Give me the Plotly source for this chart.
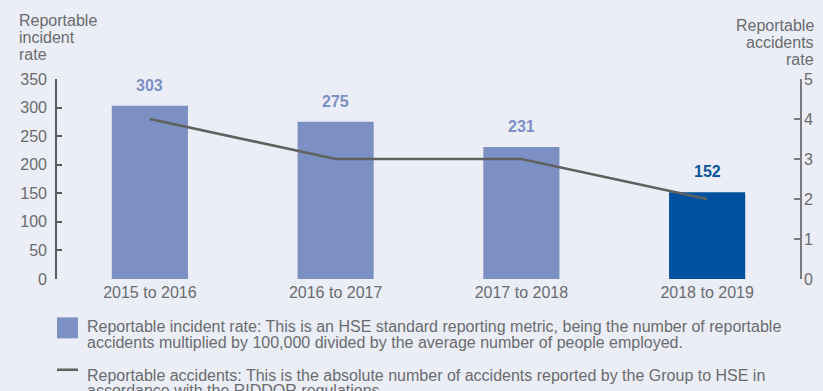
import plotly.graph_objects as go

categories = ["2015 to 2016", "2016 to 2017", "2017 to 2018", "2018 to 2019"]
incident_rate = [303, 275, 231, 152]
accidents = [4, 3, 3, 2]
bar_colors = ["#7d90c4", "#7d90c4", "#7d90c4", "#00529f"]
label_colors = ["#7d90c4", "#7d90c4", "#7d90c4", "#0a55a0"]
y_ticks = [0, 50, 100, 150, 200, 250, 300, 350]
y2_ticks = [0, 1, 2, 3, 4, 5]
left_title = ["Reportable", "incident", "rate"]
right_title = ["Reportable", "accidents", "rate"]
legend_bar = ["Reportable incident rate: This is an HSE standard reporting metric, being the number of reportable",
              "accidents multiplied by 100,000 divided by the average number of people employed."]
legend_line = ["Reportable accidents: This is the absolute number of accidents reported by the Group to HSE in",
               "accordance with the RIDDOR regulations."]

W, H = 823, 391
ML, MR, MT, MB = 57, 23, 79, 111.5
PW = W - ML - MR
PH = H - MT - MB
BG = "#ebeef6"
TXT = "#6a6b6e"
FONT = "Liberation Sans, Arial, sans-serif"


def px(x):
    return (x - ML) / PW


def py(y):
    return (H - MB - y) / PH


fig = go.Figure()
fig.add_trace(go.Bar(x=categories, y=incident_rate, marker=dict(color=bar_colors, line=dict(width=0)),
                     width=0.41, showlegend=False, hoverinfo="skip"))
fig.add_trace(go.Scatter(x=categories, y=accidents, yaxis="y2", mode="lines",
                         line=dict(color="#616161", width=2.6), showlegend=False, hoverinfo="skip"))

annotations = []
for c, v, col in zip(categories, incident_rate, label_colors):
    annotations.append(dict(x=c, y=v, xref="x", yref="y", text="<b>%d</b>" % v, showarrow=False,
                            yanchor="bottom", yshift=10, font=dict(size=16, color=col, family=FONT)))

# axis titles (one annotation per line for tight leading)
for i, t in enumerate(left_title):
    annotations.append(dict(x=px(17), y=py(20 + 17 * i), xref="paper", yref="paper", text=t, showarrow=False,
                            xanchor="left", yanchor="middle", font=dict(size=16, color=TXT, family=FONT)))
for i, t in enumerate(right_title):
    annotations.append(dict(x=px(816), y=py(25 + 17 * i), xref="paper", yref="paper", text=t, showarrow=False,
                            xanchor="right", yanchor="middle", font=dict(size=16, color=TXT, family=FONT)))

# legend text
for i, t in enumerate(legend_bar):
    annotations.append(dict(x=px(85), y=py(327.5 + 15.6 * i), xref="paper", yref="paper", text=t, showarrow=False,
                            xanchor="left", yanchor="middle", font=dict(size=16, color=TXT, family=FONT)))
for i, t in enumerate(legend_line):
    annotations.append(dict(x=px(85), y=py(376 + 15.6 * i), xref="paper", yref="paper", text=t, showarrow=False,
                            xanchor="left", yanchor="middle", font=dict(size=16, color=TXT, family=FONT)))

shapes = [
    dict(type="rect", xref="paper", yref="paper", x0=px(57), x1=px(78), y0=py(339), y1=py(318),
         fillcolor=bar_colors[0], line=dict(width=0)),
    dict(type="line", xref="paper", yref="paper", x0=px(57), x1=px(78), y0=py(370.5), y1=py(370.5),
         line=dict(color="#616161", width=2.6)),
]

fig.update_layout(
    width=W, height=H,
    margin=dict(l=ML, r=MR, t=MT, b=MB, autoexpand=False),
    paper_bgcolor=BG, plot_bgcolor=BG,
    font=dict(family=FONT, color=TXT, size=16),
    bargap=0.59,
    xaxis=dict(type="category", range=[-0.5, 3.5], showgrid=False, zeroline=False, showline=False,
               ticks="", tickfont=dict(size=16, color=TXT), ticklabelstandoff=2, automargin=False),
    yaxis=dict(range=[0, 350], tickvals=y_ticks, showgrid=False, zeroline=False,
               showline=True, linecolor="#58595b", linewidth=1.6,
               ticks="inside", ticklen=5, tickwidth=1.6, tickcolor="#58595b",
               tickfont=dict(size=16, color=TXT), ticklabelstandoff=5, automargin=False),
    yaxis2=dict(range=[0, 5], tickvals=y2_ticks, overlaying="y", side="right", showgrid=False, zeroline=False,
                showline=True, linecolor="#7a7b7d", linewidth=1.6,
                ticks="inside", ticklen=6, tickwidth=1.6, tickcolor="#7a7b7d",
                tickfont=dict(size=16, color=TXT), ticklabelstandoff=-1, automargin=False),
    annotations=annotations,
    shapes=shapes,
)

fig.write_html("out.html")
